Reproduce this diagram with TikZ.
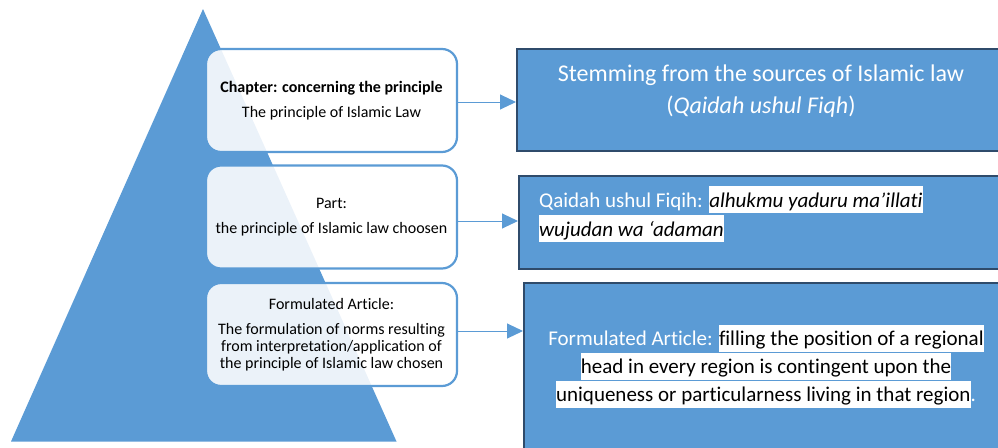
\documentclass[tikz,border=0pt]{standalone}
\usepackage{fontspec}
\setmainfont{Carlito}[Ligatures=NoCommon]
\usepackage{tikz}
\usetikzlibrary{arrows.meta}
\usetikzlibrary{positioning,calc}
\definecolor{pyrblue}{RGB}{91,155,213}
\definecolor{edgenavy}{RGB}{47,75,107}
\newcommand{\hlw}[1]{{\setlength{\fboxsep}{0pt}\colorbox{white}{\rule[-6pt]{0pt}{27pt}\color{black}#1}}}

\begin{document}
\begin{tikzpicture}[x=1pt,y=-1pt,
    lbox/.style={draw=pyrblue,line width=2.2pt,rounded corners=15pt,fill=white,
      fill opacity=0.88,text opacity=1,minimum width=251pt,minimum height=103pt,
      font=\fontsize{16}{17}\selectfont,align=center},
    rbox/.style={draw=edgenavy,line width=2pt,fill=pyrblue,anchor=north west,
      minimum width=500pt},
    rtext/.style={text=white,inner sep=0pt},
    link/.style={pyrblue,line width=1pt,-{Triangle[length=16pt,width=15pt]}}]
    \useasboundingbox (0,0) rectangle (998,447);
    \clip (0,0) rectangle (998,447);
    \fill[pyrblue] (203,9) -- (396.5,441.5) -- (11,441.5) -- cycle;
    \node[lbox] (chap) at (331.5,100.5)
      {\textbf{Chapter: concerning the principle}\\[8pt]The principle of Islamic Law};
    \node[lbox] (part) at (331.5,217)
      {Part:\\[8pt]the principle of Islamic law choosen};
    \node[lbox] (art) at (331.5,334.5)
      {Formulated Article:\\[8pt]The formulation of norms resulting\\
       from interpretation/application of\\the principle of Islamic law chosen};
    \node[rbox,minimum height=102pt] (src) at (516,48) {};
    \node[rbox,minimum height=93pt] (qaidah) at (518,175) {};
    \node[rbox,minimum height=200pt] (formul) at (523,282) {};
    \node[rtext,align=center,font=\fontsize{24}{32}\selectfont] (srctext) at (761,91)
      {Stemming from the sources of Islamic law\\(\textit{Qaidah ushul Fiqh})};
    \node[rtext,align=left,anchor=west,font=\fontsize{21}{29}\selectfont] (qaidahtext) at (539,214)
      {Qaidah ushul Fiqih: \hlw{\itshape alhukmu yaduru ma’illati}\\
       \hlw{\itshape wujudan wa ‘adaman}};
    \node[rtext,align=center,font=\fontsize{21}{28}\selectfont] (formultext) at (766,366)
      {Formulated Article: \hlw{filling the position of a regional}\\
       \hlw{head in every region is contingent upon the}\\
       \hlw{uniqueness or particularness living in that region}.};
    \draw[link] ([yshift=-1.5pt]chap.east) -- ([yshift=-1.5pt]chap.east -| src.west);
    \draw[link] ([yshift=-4pt]part.east) -- ([yshift=-4pt]part.east -| qaidah.west);
    \draw[link] ([yshift=3.5pt]art.east) -- ([yshift=3.5pt]art.east -| formul.west);
  \end{tikzpicture}
\end{document}
